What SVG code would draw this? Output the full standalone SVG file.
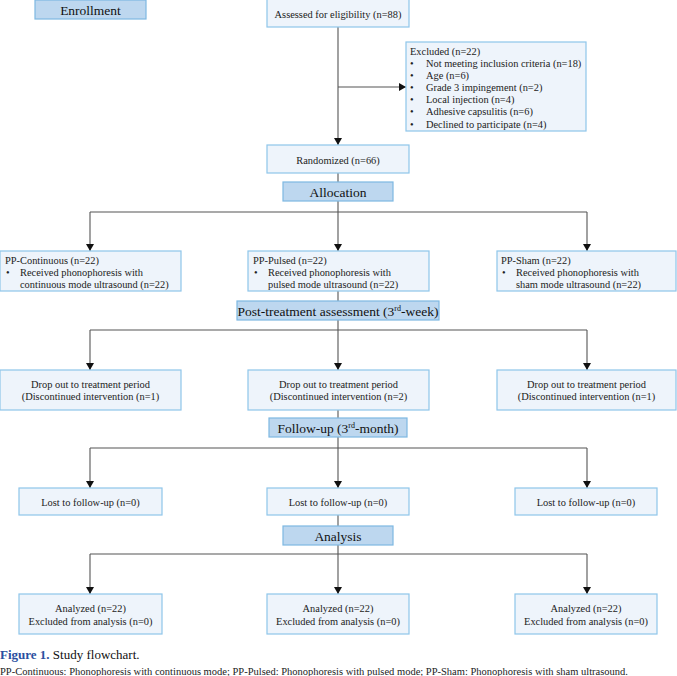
<svg xmlns="http://www.w3.org/2000/svg" width="677" height="676" viewBox="0 0 677 676">
<defs>
<marker id="ah" markerWidth="7" markerHeight="8" refX="7" refY="4" orient="auto" markerUnits="userSpaceOnUse">
<path d="M0,0 L7,4 L0,8 Z" fill="#111"/>
</marker>
<style>
.box{fill:#eef4fb;stroke:#8ec5ea;stroke-width:1.2}
.hdr{fill:#bdd7ef;stroke:#7db8e2;stroke-width:1.2}
.t{font-family:"Liberation Serif",serif;font-size:10.4px;fill:#222}
.c{text-anchor:middle}
.h{font-family:"Liberation Serif",serif;font-size:13.5px;fill:#111;text-anchor:middle}
.ln{stroke:#555;stroke-width:1.1;fill:none}
.ar{stroke:#555;stroke-width:1.1;fill:none;marker-end:url(#ah)}
</style>
</defs>
<rect width="677" height="676" fill="#fff"/>
<g id="connectors">
<line class="ar" x1="338" y1="27" x2="338" y2="145"/>
<line class="ar" x1="338" y1="87" x2="406" y2="87"/>
<line class="ln" x1="338" y1="173" x2="338" y2="182"/>
<line class="ar" x1="338" y1="201" x2="338" y2="251"/>
<line class="ln" x1="90" y1="212" x2="587" y2="212"/>
<line class="ar" x1="90" y1="212" x2="90" y2="251"/>
<line class="ar" x1="587" y1="212" x2="587" y2="251"/>
<line class="ln" x1="338" y1="291" x2="338" y2="301"/>
<line class="ar" x1="338" y1="320" x2="338" y2="370"/>
<line class="ln" x1="90" y1="330" x2="587" y2="330"/>
<line class="ar" x1="90" y1="330" x2="90" y2="370"/>
<line class="ar" x1="587" y1="330" x2="587" y2="370"/>
<line class="ln" x1="338" y1="410" x2="338" y2="418"/>
<line class="ar" x1="338" y1="437" x2="338" y2="488"/>
<line class="ln" x1="90" y1="448" x2="587" y2="448"/>
<line class="ar" x1="90" y1="448" x2="90" y2="488"/>
<line class="ar" x1="587" y1="448" x2="587" y2="488"/>
<line class="ln" x1="338" y1="515" x2="338" y2="526"/>
<line class="ar" x1="338" y1="545" x2="338" y2="594"/>
<line class="ln" x1="90" y1="554" x2="587" y2="554"/>
<line class="ar" x1="90" y1="554" x2="90" y2="594"/>
<line class="ar" x1="587" y1="554" x2="587" y2="594"/>
</g>
<g id="enrollment"><rect class="hdr" x="35" y="0" width="111" height="19"/><text class="h" x="90.5" y="14.5">Enrollment</text></g>
<g id="assessed"><rect class="box" x="267" y="-1" width="142" height="28"/><text class="t c" x="338" y="18">Assessed for eligibility (n=88)</text></g>
<g id="excluded"><rect class="box" x="406" y="42" width="180" height="89"/>
<text class="t" x="410" y="55">Excluded (n=22)</text>
<text class="t" x="410" y="67">•</text><text class="t" x="426" y="67">Not meeting inclusion criteria (n=18)</text>
<text class="t" x="410" y="79">•</text><text class="t" x="426" y="79">Age (n=6)</text>
<text class="t" x="410" y="91">•</text><text class="t" x="426" y="91">Grade 3 impingement (n=2)</text>
<text class="t" x="410" y="103">•</text><text class="t" x="426" y="103">Local injection (n=4)</text>
<text class="t" x="410" y="115">•</text><text class="t" x="426" y="115">Adhesive capsulitis (n=6)</text>
<text class="t" x="410" y="128">•</text><text class="t" x="426" y="128">Declined to participate (n=4)</text>
</g>
<g id="randomized"><rect class="box" x="267" y="145" width="142" height="28"/><text class="t c" x="338" y="163.5">Randomized (n=66)</text></g>
<g id="allocation"><rect class="hdr" x="283" y="182" width="110" height="19"/><text class="h" x="338" y="196.5">Allocation</text></g>
<g id="pp-continuous"><rect class="box" x="0" y="251" width="181" height="40"/>
<text class="t" x="5" y="263.5">PP-Continuous (n=22)</text>
<text class="t" x="6" y="275.5">•</text><text class="t" x="20" y="275.5">Received phonophoresis with</text>
<text class="t" x="20" y="287.5">continuous mode ultrasound (n=22)</text></g>
<g id="pp-pulsed"><rect class="box" x="248" y="251" width="181" height="40"/>
<text class="t" x="253" y="263.5">PP-Pulsed (n=22)</text>
<text class="t" x="254" y="275.5">•</text><text class="t" x="268" y="275.5">Received phonophoresis with</text>
<text class="t" x="268" y="287.5">pulsed mode ultrasound (n=22)</text></g>
<g id="pp-sham"><rect class="box" x="497" y="251" width="179" height="40"/>
<text class="t" x="501" y="263.5">PP-Sham (n=22)</text>
<text class="t" x="502" y="275.5">•</text><text class="t" x="516" y="275.5">Received phonophoresis with</text>
<text class="t" x="516" y="287.5">sham mode ultrasound (n=22)</text></g>
<g id="post-treatment"><rect class="hdr" x="237" y="301" width="202" height="19"/><text class="h" x="338" y="315.5">Post-treatment assessment (3<tspan font-size="8" dy="-5">rd</tspan><tspan dy="5">-week)</tspan></text></g>
<g id="drop-left"><rect class="box" x="0" y="370" width="181" height="40"/><text class="t c" x="90.5" y="387.5">Drop out to treatment period</text><text class="t c" x="90.5" y="400">(Discontinued intervention (n=1)</text></g>
<g id="drop-mid"><rect class="box" x="248" y="370" width="181" height="40"/><text class="t c" x="338.5" y="387.5">Drop out to treatment period</text><text class="t c" x="338.5" y="400">(Discontinued intervention (n=2)</text></g>
<g id="drop-right"><rect class="box" x="497" y="370" width="179" height="40"/><text class="t c" x="586.5" y="387.5">Drop out to treatment period</text><text class="t c" x="586.5" y="400">(Discontinued intervention (n=1)</text></g>
<g id="follow-up"><rect class="hdr" x="269" y="418" width="138" height="19"/><text class="h" x="338" y="432.5">Follow-up (3<tspan font-size="8" dy="-5">rd</tspan><tspan dy="5">-month)</tspan></text></g>
<g id="lost-left"><rect class="box" x="19" y="488" width="143" height="27"/><text class="t c" x="90.5" y="506">Lost to follow-up (n=0)</text></g>
<g id="lost-mid"><rect class="box" x="267" y="488" width="142" height="27"/><text class="t c" x="338" y="506">Lost to follow-up (n=0)</text></g>
<g id="lost-right"><rect class="box" x="515" y="488" width="142" height="27"/><text class="t c" x="586" y="506">Lost to follow-up (n=0)</text></g>
<g id="analysis"><rect class="hdr" x="283" y="526" width="110" height="19"/><text class="h" x="338" y="540.5">Analysis</text></g>
<g id="analyzed-left"><rect class="box" x="19" y="594" width="143" height="40"/><text class="t c" x="90.5" y="612">Analyzed (n=22)</text><text class="t c" x="90.5" y="624.5">Excluded from analysis (n=0)</text></g>
<g id="analyzed-mid"><rect class="box" x="267" y="594" width="142" height="40"/><text class="t c" x="338" y="612">Analyzed (n=22)</text><text class="t c" x="338" y="624.5">Excluded from analysis (n=0)</text></g>
<g id="analyzed-right"><rect class="box" x="515" y="594" width="142" height="40"/><text class="t c" x="586" y="612">Analyzed (n=22)</text><text class="t c" x="586" y="624.5">Excluded from analysis (n=0)</text></g>
<g id="caption">
<text x="0" y="658.5" font-family="Liberation Serif, serif" font-size="13" fill="#111"><tspan font-weight="bold" fill="#2a4fa0">Figure 1.</tspan> Study flowchart.</text>
<text x="0" y="675" font-family="Liberation Serif, serif" font-size="10.5" fill="#222">PP-Continuous: Phonophoresis with continuous mode; PP-Pulsed: Phonophoresis with pulsed mode; PP-Sham: Phonophoresis with sham ultrasound.</text>
</g>
</svg>
